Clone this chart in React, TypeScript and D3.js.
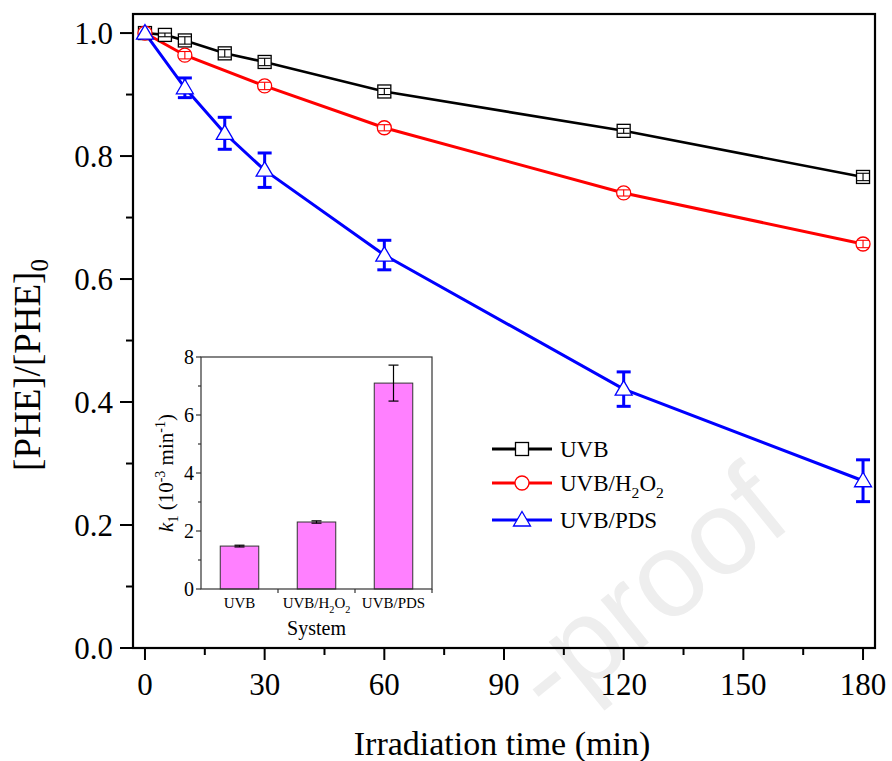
import React from "react";
import * as d3 from "d3";

// ---- Main chart data ----
const uvbTime = [0, 5, 10, 20, 30, 60, 120, 180];
const uvbVal = [1.0, 0.997, 0.988, 0.967, 0.953, 0.905, 0.841, 0.766];
const uvbErr = [0, 0.003, 0.006, 0.006, 0.006, 0.005, 0.004, 0.006];

const h2o2Time = [0, 10, 30, 60, 120, 180];
const h2o2Val = [1.0, 0.964, 0.914, 0.846, 0.74, 0.657];
const h2o2Err = [0, 0.006, 0.006, 0.005, 0.005, 0.006];

const pdsTime = [0, 10, 20, 30, 60, 120, 180];
const pdsVal = [1.0, 0.911, 0.837, 0.777, 0.639, 0.421, 0.272];
const pdsErr = [0, 0.016, 0.026, 0.028, 0.024, 0.028, 0.034];

const xTicks = [0, 30, 60, 90, 120, 150, 180];
const xMinor = [15, 45, 75, 105, 135, 165];
const yTicks = [0, 0.2, 0.4, 0.6, 0.8, 1.0];
const yMinor = [0.1, 0.3, 0.5, 0.7, 0.9];

// ---- Inset data ----
const systems = ["UVB", "UVB/H2O2", "UVB/PDS"];
const kVal = [1.48, 2.31, 7.1];
const kErr = [0.03, 0.04, 0.62];
const kTicks = [0, 2, 4, 6, 8];
const kMinor = [1, 3, 5, 7];

const FONT = "'Liberation Serif', 'Times New Roman', serif";

type Pt = { t: number; v: number; e: number };
const zip = (t: number[], v: number[], e: number[]): Pt[] =>
  t.map((tt, i) => ({ t: tt, v: v[i], e: e[i] }));

function Label({ text, size }: { text: string; size: number }) {
  if (text === "UVB/H2O2") {
    const s = size * 0.68;
    const d = size * 0.3;
    return (
      <>
        <tspan>UVB/H</tspan>
        <tspan dy={d} fontSize={s}>2</tspan>
        <tspan dy={-d}>O</tspan>
        <tspan dy={d} fontSize={s}>2</tspan>
      </>
    );
  }
  return <tspan>{text}</tspan>;
}

export default function App() {
  const W = 892, H = 761;
  const left = 133, right = 875, top = 14, bottom = 648;
  const x = d3.scaleLinear().domain([-3, 183]).range([left, right]);
  const y = d3.scaleLinear().domain([0, 1.031]).range([bottom, top]);

  const line = d3.line<Pt>().x((d) => x(d.t)).y((d) => y(d.v));

  const uvb = zip(uvbTime, uvbVal, uvbErr);
  const h2o2 = zip(h2o2Time, h2o2Val, h2o2Err);
  const pds = zip(pdsTime, pdsVal, pdsErr);

  const BLACK = "#000000", RED = "#ff0000", BLUE = "#0000ff";

  // inset
  const iL = 201, iR = 432, iT = 357, iB = 589;
  const xb = d3.scaleBand<string>().domain(systems).range([iL, iR]).paddingInner(0.5).paddingOuter(0.25);
  const yb = d3.scaleLinear().domain([0, 8]).range([iB, iT]);

  const square = (cx: number, cy: number, k: string) => (
    <rect key={k} x={cx - 6.5} y={cy - 6.5} width={13} height={13} fill="#fff" stroke={BLACK} strokeWidth={1.3} />
  );
  const circle = (cx: number, cy: number, k: string) => (
    <circle key={k} cx={cx} cy={cy} r={7} fill="#fff" stroke={RED} strokeWidth={1.3} />
  );
  const tri = (cx: number, cy: number, k: string) => (
    <path key={k} d={`M${cx},${cy - 8.5} L${cx + 8.5},${cy + 6} L${cx - 8.5},${cy + 6} Z`} fill="#fff" stroke={BLUE} strokeWidth={1.3} />
  );

  const errBars = (data: Pt[], color: string, sw: number, cap: number, pre: string) =>
    data.filter((d) => d.e > 0).map((d, i) => {
      const cx = x(d.t), y1 = y(d.v + d.e), y2 = y(d.v - d.e);
      return (
        <g key={pre + i} stroke={color} strokeWidth={sw}>
          <line x1={cx} x2={cx} y1={y1} y2={y2} />
          <line x1={cx - cap / 2} x2={cx + cap / 2} y1={y1} y2={y1} />
          <line x1={cx - cap / 2} x2={cx + cap / 2} y1={y2} y2={y2} />
        </g>
      );
    });

  const legendItems = [
    { name: "UVB", color: BLACK, m: square, y: 449 },
    { name: "UVB/H2O2", color: RED, m: circle, y: 483 },
    { name: "UVB/PDS", color: BLUE, m: tri, y: 520 },
  ];

  return (
    <svg width={W} height={H} style={{ position: "absolute", left: 0, top: 0, background: "#fff", fontFamily: FONT }} fontFamily={FONT}>
      <rect x={0} y={0} width={W} height={H} fill="#fff" />
      {/* watermark (visible part) */}
      <text x={0} y={0} transform="translate(795,524) rotate(-39)" textAnchor="end" fontSize={120} fill="#eeeeee" fontFamily="'Liberation Sans', Arial, sans-serif">
        -proof
      </text>

      {/* lines */}
      <path d={line(uvb) || ""} fill="none" stroke={BLACK} strokeWidth={2.6} />
      <path d={line(h2o2) || ""} fill="none" stroke={RED} strokeWidth={3} />
      <path d={line(pds) || ""} fill="none" stroke={BLUE} strokeWidth={3} />

      {errBars(pds, BLUE, 3, 14, "pe")}

      {uvb.map((d, i) => square(x(d.t), y(d.v), "s" + i))}
      {h2o2.map((d, i) => circle(x(d.t), y(d.v), "c" + i))}
      {pds.map((d, i) => tri(x(d.t), y(d.v), "t" + i))}

      {errBars(uvb, BLACK, 1.1, 12, "ue")}
      {errBars(h2o2, RED, 1.1, 12, "he")}

      {/* frame */}
      <rect x={left} y={top} width={right - left} height={bottom - top} fill="none" stroke="#000" strokeWidth={2.2} />

      {yTicks.map((t) => (
        <g key={"yt" + t}>
          <line x1={left - 13} x2={left} y1={y(t)} y2={y(t)} stroke="#000" strokeWidth={2} />
          <text x={left - 20} y={y(t)} dy="0.35em" textAnchor="end" fontSize={31}>{t.toFixed(1)}</text>
        </g>
      ))}
      {yMinor.map((t) => (
        <line key={"ym" + t} x1={left - 7} x2={left} y1={y(t)} y2={y(t)} stroke="#000" strokeWidth={2} />
      ))}

      {xTicks.map((t) => (
        <g key={"xt" + t}>
          <line x1={x(t)} x2={x(t)} y1={bottom} y2={bottom + 12} stroke="#000" strokeWidth={2} />
          <text x={x(t)} y={695} textAnchor="middle" fontSize={31}>{t}</text>
        </g>
      ))}
      {xMinor.map((t) => (
        <line key={"xm" + t} x1={x(t)} x2={x(t)} y1={bottom} y2={bottom + 7} stroke="#000" strokeWidth={2} />
      ))}

      <text x={502} y={755} textAnchor="middle" fontSize={34}>Irradiation time (min)</text>
      <text transform="translate(40,365) rotate(-90)" textAnchor="middle" fontSize={37}>
        <tspan>[PHE]/[PHE]</tspan>
        <tspan dy={8} fontSize={25}>0</tspan>
      </text>

      {legendItems.map((it) => (
        <g key={it.name}>
          <line x1={492} x2={552} y1={it.y} y2={it.y} stroke={it.color} strokeWidth={3} />
          {it.m(522, it.y, "lm" + it.name)}
          <text x={560} y={it.y + 8} fontSize={23}>
            <Label text={it.name} size={23} />
          </text>
        </g>
      ))}

      {/* ---- inset ---- */}
      <g>
        {systems.map((s, i) => {
          const bx = xb(s) as number;
          const bw = xb.bandwidth();
          const cx = bx + bw / 2;
          const y1 = yb(kVal[i] + kErr[i]), y2 = yb(kVal[i] - kErr[i]);
          return (
            <g key={"bar" + s}>
              <rect x={bx} y={yb(kVal[i])} width={bw} height={iB - yb(kVal[i])} fill="#ff80ff" stroke="#333" strokeWidth={1} />
              <g stroke="#000" strokeWidth={1.2}>
                <line x1={cx} x2={cx} y1={y1} y2={y2} />
                <line x1={cx - 5} x2={cx + 5} y1={y1} y2={y1} />
                <line x1={cx - 5} x2={cx + 5} y1={y2} y2={y2} />
              </g>
              <text x={cx} y={608} textAnchor="middle" fontSize={15}>
                <Label text={s} size={15} />
              </text>
            </g>
          );
        })}
        <rect x={iL} y={iT} width={iR - iL} height={iB - iT} fill="none" stroke="#333" strokeWidth={1.2} />
        {kTicks.map((t) => (
          <g key={"kt" + t}>
            <line x1={iL - 5} x2={iL} y1={yb(t)} y2={yb(t)} stroke="#333" strokeWidth={1.2} />
            <text x={iL - 7} y={yb(t)} dy="0.35em" textAnchor="end" fontSize={20}>{t}</text>
          </g>
        ))}
        {kMinor.map((t) => (
          <line key={"km" + t} x1={iL - 3} x2={iL} y1={yb(t)} y2={yb(t)} stroke="#333" strokeWidth={1.2} />
        ))}
        {systems.map((s, i) => {
          const bx = (xb(s) as number) - xb.step() * xb.paddingInner() / 2;
          return i === 0 ? null : (
            <line key={"bt" + s} x1={bx} x2={bx} y1={iB} y2={iB + 4} stroke="#333" strokeWidth={1.2} />
          );
        })}
        <line x1={iR} x2={iR} y1={iB} y2={iB + 4} stroke="#333" strokeWidth={1.2} />
        <text x={(iL + iR) / 2} y={635} textAnchor="middle" fontSize={20}>System</text>
        <text transform={`translate(173,${(iT + iB) / 2}) rotate(-90)`} textAnchor="middle" fontSize={21}>
          <tspan fontStyle="italic">k</tspan>
          <tspan dy={5} fontSize={14}>1</tspan>
          <tspan dy={-5}> (10</tspan>
          <tspan dy={-8} fontSize={14}>-3</tspan>
          <tspan dy={8}> min</tspan>
          <tspan dy={-8} fontSize={14}>-1</tspan>
          <tspan dy={8}>)</tspan>
        </text>
      </g>
    </svg>
  );
}
